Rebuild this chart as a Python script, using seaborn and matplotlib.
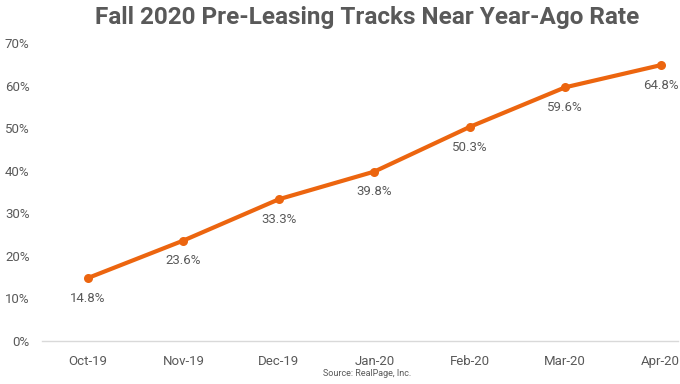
import matplotlib
matplotlib.use('Agg')
import matplotlib.pyplot as plt
import seaborn as sns
import pandas as pd

months = ['Oct-19', 'Nov-19', 'Dec-19', 'Jan-20', 'Feb-20', 'Mar-20', 'Apr-20']
pre_leased = [14.8, 23.6, 33.3, 39.8, 50.3, 59.6, 64.8]
y_ticks = [0, 10, 20, 30, 40, 50, 60, 70]

sns.set_theme(style='white')
plt.rcParams['font.family'] = ['Roboto', 'DejaVu Sans']

df = pd.DataFrame({'month': months, 'pct': pre_leased})
orange = '#EC650F'
gray = '#595959'

fig = plt.figure(figsize=(6.8, 3.84), dpi=100)
ax = fig.add_axes([0.062, 0.112, 0.935, 0.776])

x = list(range(len(months)))
sns.lineplot(x=x, y=df['pct'], color=orange, linewidth=3, marker='o',
             markersize=6.5, markeredgewidth=0, ax=ax)

for xi, v in zip(x, pre_leased):
    ax.annotate(f'{v:.1f}%', (xi, v), xytext=(0, -10), textcoords='offset points',
                ha='center', va='top', fontsize=9.5, color=gray)

ax.set_xlim(-0.48, 6.18)
ax.set_ylim(0, 70)
ax.set_xticks(x)
ax.set_xticklabels(months)
ax.set_yticks(y_ticks)
ax.set_yticklabels([f'{t}%' for t in y_ticks])
ax.tick_params(axis='both', labelsize=9.5, colors=gray, length=0)
ax.tick_params(axis='x', pad=10)
ax.tick_params(axis='y', pad=9)
ax.set_xlabel('')
ax.set_ylabel('')
for s in ['top', 'right', 'left']:
    ax.spines[s].set_visible(False)
ax.spines['bottom'].set_color('#D9D9D9')
ax.spines['bottom'].set_linewidth(1)

fig.text(0.54, 0.955, 'Fall 2020 Pre-Leasing Tracks Near Year-Ago Rate',
         ha='center', va='center', fontsize=17.5, fontweight='bold', color=gray)
fig.text(0.54, 0.016, 'Source: RealPage, Inc.', ha='center', va='bottom',
         fontsize=6.5, color=gray)

fig.savefig('out.png', dpi=100)
